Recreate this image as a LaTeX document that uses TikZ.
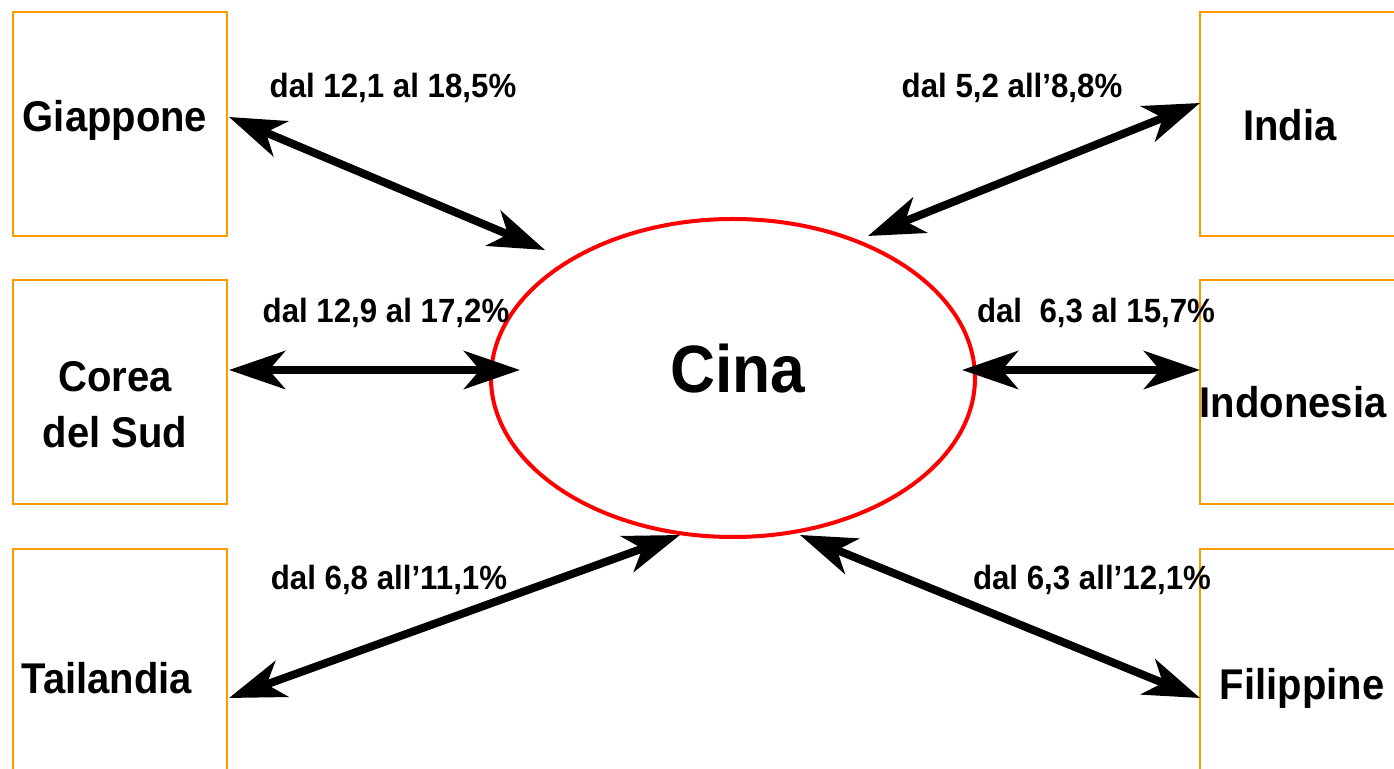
\documentclass[tikz,border=0pt]{standalone}
\usepackage{fontspec}
\setmainfont{Liberation Sans}[FakeStretch=0.93]
\usetikzlibrary{arrows.meta}
\definecolor{boxorange}{RGB}{255,153,0}
\tikzset{
  cbox/.style={draw=boxorange,line width=1pt,minimum width=107pt,minimum height=112pt,inner sep=0pt},
  ctext/.style={font=\fontsize{21.5}{26}\selectfont\bfseries,align=center,inner sep=0pt},
  lbl/.style={font=\fontsize{16.8}{19}\selectfont\bfseries,inner sep=0pt},
  tip/.style={},
  arr/.style={line width=4pt,{Stealth[length=28pt,width=19pt,inset=8pt]}-{Stealth[length=28pt,width=19pt,inset=8pt]}},
}
\begin{document}
\begin{tikzpicture}[x=0.5pt,y=-0.5pt]
\useasboundingbox (0,0) rectangle (1394,769);
\clip (0,0) rectangle (1394,769);
\fill[white] (0,0) rectangle (1394,769);
% boxes
\node[cbox] (gbox) at (120,124) {};
\node[cbox] (kbox) at (120,392.5) {};
\node[cbox] (tbox) at (120,661) {};
\node[cbox] (ibox) at (1307,124) {};
\node[cbox] (nbox) at (1307,392.5) {};
\node[cbox] (fbox) at (1307,661) {};
% ellipse
\draw[red,line width=2pt] (733,378) ellipse [x radius=242,y radius=159];
\node[inner sep=0pt] (cina) at (738,369) {\fontsize{33.5}{38}\selectfont\bfseries Cina};
% country texts
\node[ctext] (gt) at (115,120) {Giappone};
\node[ctext] (kt) at (115,405) {Corea\\[2pt]del Sud};
\node[ctext] (tt) at (107,678) {Tailandia};
\node[ctext] (it) at (1290,125) {India};
\node[ctext] (nt) at (1293,402) {Indonesia};
\node[ctext] (ft) at (1302,688) {Filippine};
% labels
\node[lbl] (l1) at (393,88) {dal 12,1 al 18,5\%};
\node[lbl] (l2) at (1012,88) {dal 5,2 all’8,8\%};
\node[lbl] (l3) at (386,313) {dal 12,9 al 17,2\%};
\node[lbl] (l4) at (1096,313) {dal\ \ 6,3 al 15,7\%};
\node[lbl] (l5) at (389,580) {dal 6,8 all’11,1\%};
\node[lbl] (l6) at (1092,580) {dal 6,3 all’12,1\%};
% arrow endpoints
\coordinate (ga) at (229,117);
\coordinate (gc) at (545,250);
\coordinate (ia) at (1200,103);
\coordinate (ic) at (868,236);
\coordinate (ka) at (229,370);
\coordinate (kc) at (520,370);
\coordinate (na) at (1200,370);
\coordinate (nc) at (962,370);
\coordinate (ta) at (229,698);
\coordinate (tc) at (680,535);
\coordinate (fa) at (1200,698);
\coordinate (fc) at (800,535);
\draw[arr] (ga) -- (gc);
\draw[arr] (ia) -- (ic);
\draw[arr] (ka) -- (kc);
\draw[arr] (na) -- (nc);
\draw[arr] (ta) -- (tc);
\draw[arr] (fa) -- (fc);
\end{tikzpicture}
\end{document}
